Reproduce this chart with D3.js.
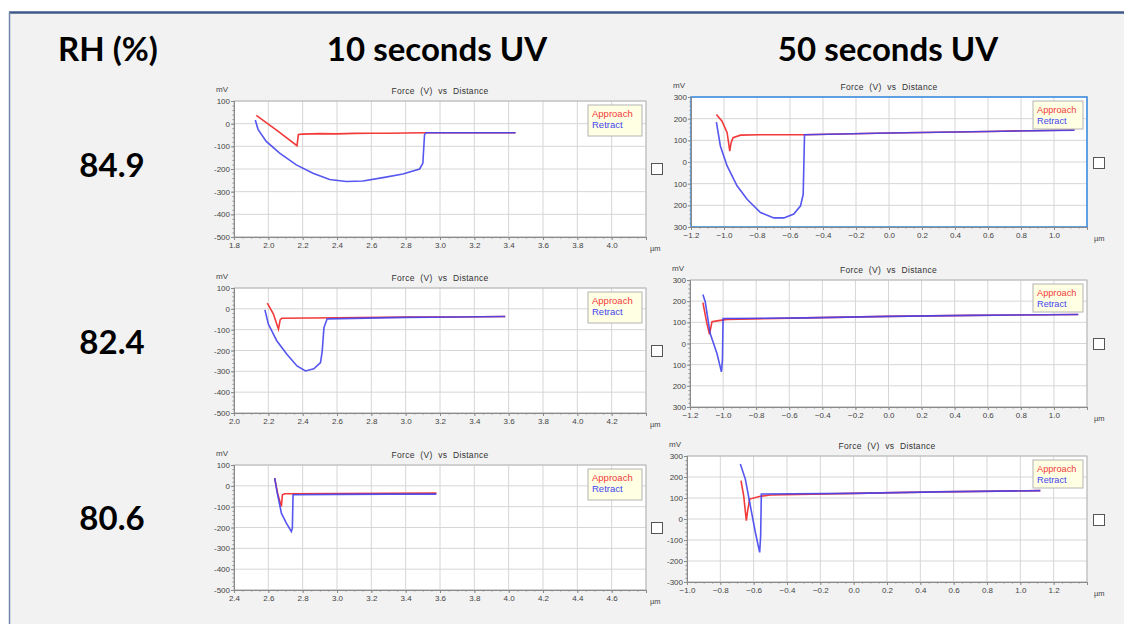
<!DOCTYPE html>
<html>
<head>
<meta charset="utf-8">
<script src="https://cdn.jsdelivr.net/npm/d3@7"></script>
<style>
  body { margin: 0; background: #fff; }
  svg { display: block; }
</style>
</head>
<body>
<svg id="chart" width="1124" height="624"></svg>
<script>
// Force vs distance curves, 3 humidities x 2 UV exposure times

// ---- data ----
const rhLabels = ["84.9", "82.4", "80.6"];
const uvLabels = ["10 seconds UV", "50 seconds UV"];
const seriesNames = ["Approach", "Retract"];
const panelTitle = "Force (V) vs Distance";

const yTicksLeft = [100, 0, -100, -200, -300, -400, -500];
const yTicksRight = [300, 200, 100, 0, -100, -200, -300];
const xTicks1 = [1.8, 2.0, 2.2, 2.4, 2.6, 2.8, 3.0, 3.2, 3.4, 3.6, 3.8, 4.0];
const xTicks3 = [2.0, 2.2, 2.4, 2.6, 2.8, 3.0, 3.2, 3.4, 3.6, 3.8, 4.0, 4.2];
const xTicks5 = [2.4, 2.6, 2.8, 3.0, 3.2, 3.4, 3.6, 3.8, 4.0, 4.2, 4.4, 4.6];
const xTicksR = [-1.2, -1.0, -0.8, -0.6, -0.4, -0.2, 0.0, 0.2, 0.4, 0.6, 0.8, 1.0];
const xTicks6 = [-1.0, -0.8, -0.6, -0.4, -0.2, 0.0, 0.2, 0.4, 0.6, 0.8, 1.0, 1.2];

// RH 84.9, 10 s
const approach10a = [[1.930, 37], [2.05, -30], [2.167, -97], [2.175, -48], [2.2, -46], [2.3, -44],
  [2.4, -45], [2.5, -43], [2.6, -42], [2.7, -42], [2.8, -41], [2.92, -40], [3.2, -40], [3.44, -40]];
const retract10a = [[1.924, 16], [1.94, -25], [1.988, -78], [2.066, -130], [2.163, -182], [2.26, -219],
  [2.357, -246], [2.454, -255], [2.551, -253], [2.668, -238], [2.784, -222], [2.881, -200],
  [2.90, -175], [2.91, -48], [2.92, -40], [3.2, -40], [3.44, -40]];
// RH 84.9, 50 s
const approach50a = [[-1.046, 219], [-1.012, 188], [-0.981, 135], [-0.965, 50], [-0.957, 89],
  [-0.945, 112], [-0.90, 124], [-0.78, 126], [-0.516, 126], [0.0, 134], [0.6, 141], [1.124, 148]];
const retract50a = [[-1.046, 184], [-1.022, 74], [-0.981, -18], [-0.921, -110], [-0.860, -172],
  [-0.779, -233], [-0.698, -258], [-0.637, -258], [-0.577, -240], [-0.536, -202], [-0.520, -149],
  [-0.512, 126], [0.0, 134], [0.6, 141], [1.124, 147]];
// RH 82.4, 10 s
const approach10b = [[2.194, 27], [2.229, -24], [2.259, -97], [2.269, -53], [2.278, -45],
  [2.6, -43], [3.0, -40], [3.3, -39], [3.58, -37]];
const retract10b = [[2.180, -5], [2.20, -73], [2.249, -153], [2.308, -218], [2.367, -274],
  [2.416, -298], [2.465, -288], [2.504, -258], [2.514, -202], [2.524, -89], [2.543, -48],
  [3.0, -41], [3.3, -39], [3.58, -37]];
// RH 82.4, 50 s
const approach50b = [[-1.122, 193], [-1.098, 95], [-1.082, 44], [-1.067, 103], [-1.037, 107],
  [-0.976, 114], [-0.5, 121], [0.0, 128], [0.5, 133], [1.147, 137]];
const retract50b = [[-1.122, 232], [-1.108, 197], [-1.078, 47], [-1.037, -47], [-1.01, -134],
  [-1.004, -79], [-1.0, 118], [-0.5, 121], [0.0, 128], [0.5, 133], [1.147, 137]];
// RH 80.6, 10 s
const approach10c = [[2.637, 37], [2.656, -43], [2.676, -99], [2.682, -43], [2.695, -38],
  [3.0, -37], [3.3, -36], [3.579, -35]];
const retract10c = [[2.637, 37], [2.65, -27], [2.676, -131], [2.705, -179], [2.734, -219],
  [2.74, -203], [2.744, -43], [3.0, -41], [3.3, -40], [3.579, -40]];
// RH 80.6, 50 s
const approach50c = [[-0.676, 183], [-0.66, 111], [-0.644, -8], [-0.636, 40], [-0.624, 95],
  [-0.56, 108], [-0.5, 114], [0.0, 122], [0.5, 129], [1.12, 135]];
const retract50c = [[-0.68, 262], [-0.65, 190], [-0.62, 63], [-0.59, -63], [-0.564, -159],
  [-0.558, -79], [-0.554, 119], [0.0, 122], [0.5, 129], [1.12, 135]];

// ---- layout ----
const panels = [
  { x0: 234, x1: 646, y0: 101, y1: 237, xTicks: xTicks1, xDom: [1.8, 4.2], yTicks: yTicksLeft, yDom: [-500, 100], a: approach10a, r: retract10a, side: "L", absY: false, sel: false },
  { x0: 691, x1: 1087, y0: 97, y1: 227, xTicks: xTicksR, xDom: [-1.2, 1.2], yTicks: yTicksRight, yDom: [-300, 300], a: approach50a, r: retract50a, side: "R", absY: true, sel: true },
  { x0: 234, x1: 646, y0: 288, y1: 413, xTicks: xTicks3, xDom: [2.0, 4.4], yTicks: yTicksLeft, yDom: [-500, 100], a: approach10b, r: retract10b, side: "L", absY: false, sel: false },
  { x0: 690, x1: 1087, y0: 280, y1: 407, xTicks: xTicksR, xDom: [-1.2, 1.2], yTicks: yTicksRight, yDom: [-300, 300], a: approach50b, r: retract50b, side: "R", absY: true, sel: false },
  { x0: 234, x1: 646, y0: 465, y1: 590, xTicks: xTicks5, xDom: [2.4, 4.8], yTicks: yTicksLeft, yDom: [-500, 100], a: approach10c, r: retract10c, side: "L", absY: false, sel: false },
  { x0: 687, x1: 1087, y0: 456, y1: 582, xTicks: xTicks6, xDom: [-1.0, 1.4], yTicks: yTicksRight, yDom: [-300, 300], a: approach50c, r: retract50c, side: "R", absY: false, sel: false }
];
const checkboxes = [[651, 163], [1093, 157], [651, 345], [1093, 338], [651, 522], [1093, 514]];

const red = "#f23a3a", blue = "#4444ee";
const smallFont = "Liberation Sans, Arial, sans-serif";

const svg = d3.select("#chart");

// outer frame
svg.append("rect").attr("x", 9).attr("y", 12).attr("width", 1124).attr("height", 640).attr("fill", "#f2f2f2");
svg.append("line").attr("x1", 9).attr("x2", 1124).attr("y1", 12.5).attr("y2", 12.5)
  .attr("stroke", "#3e5a88").attr("stroke-width", 2.5);
svg.append("line").attr("x1", 9.5).attr("x2", 9.5).attr("y1", 12).attr("y2", 624)
  .attr("stroke", "#7088aa").attr("stroke-width", 1.5);

// headers
const bigFont = "Lato, 'Open Sans', sans-serif";
svg.append("text").attr("x", 108).attr("y", 61).attr("text-anchor", "middle")
  .attr("font-family", bigFont).attr("font-weight", 700).attr("font-size", 33).text("RH (%)");
[437, 888].forEach((cx, i) => {
  svg.append("text").attr("x", cx).attr("y", 61).attr("text-anchor", "middle")
    .attr("font-family", bigFont).attr("font-weight", 700).attr("font-size", 33).text(uvLabels[i]);
});
[177, 354, 530].forEach((by, i) => {
  svg.append("text").attr("x", 112).attr("y", by).attr("text-anchor", "middle")
    .attr("font-family", bigFont).attr("font-weight", 700).attr("font-size", 33).text(rhLabels[i]);
});

// panels
panels.forEach(p => {
  const g = svg.append("g");
  const x = d3.scaleLinear().domain(p.xDom).range([p.x0, p.x1]);
  const y = d3.scaleLinear().domain(p.yDom).range([p.y1, p.y0]);

  g.append("rect").attr("x", p.x0).attr("y", p.y0).attr("width", p.x1 - p.x0).attr("height", p.y1 - p.y0)
    .attr("fill", "#fff");

  // grid
  g.selectAll(".gx").data(p.xTicks.slice(1).concat([p.xDom[1]])).enter().append("line")
    .attr("x1", d => x(d)).attr("x2", d => x(d)).attr("y1", p.y0).attr("y2", p.y1)
    .attr("stroke", "#d6d6d6").attr("stroke-width", 1);
  g.selectAll(".gy").data(p.yTicks).enter().append("line")
    .attr("x1", p.x0).attr("x2", p.x1).attr("y1", d => y(d)).attr("y2", d => y(d))
    .attr("stroke", "#d6d6d6").attr("stroke-width", 1);

  // plot frame
  g.append("rect").attr("x", p.x0).attr("y", p.y0).attr("width", p.x1 - p.x0).attr("height", p.y1 - p.y0)
    .attr("fill", "none").attr("stroke", p.sel ? "#3f8ee0" : "#b8b8b8").attr("stroke-width", p.sel ? 1.6 : 1);

  // axes
  const fmtY = p.absY ? (d => String(Math.abs(d))) : (d => String(d));
  const yAxis = g.append("g").attr("transform", `translate(${p.x0},0)`)
    .call(d3.axisLeft(y).tickValues(p.yTicks).tickSize(3).tickPadding(1).tickFormat(fmtY));
  const yMinor = g.append("g").attr("transform", `translate(${p.x0},0)`)
    .call(d3.axisLeft(y).tickValues(d3.range(p.yDom[0], p.yDom[1] + 1, 20)).tickSize(1.5).tickFormat(""));
  const xAxis = g.append("g").attr("transform", `translate(0,${p.y1})`)
    .call(d3.axisBottom(x).tickValues(p.xTicks).tickSize(3).tickPadding(2).tickFormat(d3.format(".1f")));
  const xMinor = g.append("g").attr("transform", `translate(0,${p.y1})`)
    .call(d3.axisBottom(x).tickValues(d3.range(p.xDom[0], p.xDom[1] + 0.001, 0.05)).tickSize(1.5).tickFormat(""));
  [yAxis, yMinor, xAxis, xMinor].forEach(a => {
    a.select(".domain").attr("stroke", "#8a8a8a");
    a.selectAll(".tick line").attr("stroke", "#8a8a8a");
    a.selectAll("text").attr("font-family", smallFont).attr("font-size", 8).attr("fill", "#444");
  });

  // labels
  g.append("text").attr("x", (p.x0 + p.x1) / 2).attr("y", p.y0 - 7).attr("text-anchor", "middle")
    .attr("font-family", smallFont).attr("font-size", 8.5).attr("word-spacing", 3).attr("letter-spacing", 0.3)
    .attr("fill", "#333").text(panelTitle);
  g.append("text").attr("x", p.x0 - 12).attr("y", p.y0 - 9).attr("text-anchor", "middle")
    .attr("font-family", smallFont).attr("font-size", 8).attr("fill", "#444").text("mV");
  g.append("text").attr("x", p.x1 + (p.side === "L" ? 4 : 7)).attr("y", p.y1 + 14)
    .attr("font-family", smallFont).attr("font-size", 7.5).attr("fill", "#444").text("µm");

  // curves
  const line = d3.line().x(d => x(d[0])).y(d => y(d[1]));
  g.append("path").datum(p.a).attr("d", line).attr("fill", "none").attr("stroke", red).attr("stroke-width", 1.6);
  g.append("path").datum(p.r).attr("d", line).attr("fill", "none").attr("stroke", blue).attr("stroke-width", 1.6)
    .attr("stroke-opacity", 0.9);

  // legend
  const lw = p.side === "L" ? 54 : 50, lh = p.side === "L" ? 31 : 28;
  const lx = p.x1 - 4 - lw, ly = p.y0 + 4;
  g.append("rect").attr("x", lx).attr("y", ly).attr("width", lw).attr("height", lh)
    .attr("fill", "#ffffe3").attr("stroke", "#b4b4b4");
  seriesNames.forEach((s, i) => {
    g.append("text").attr("x", lx + 4).attr("y", ly + 12 + i * 11)
      .attr("font-family", smallFont).attr("font-size", p.side === "L" ? 9.5 : 9.2)
      .attr("fill", i === 0 ? red : blue).text(s);
  });
});

// checkboxes
svg.selectAll(".cb").data(checkboxes).enter().append("rect")
  .attr("x", d => d[0] + 0.5).attr("y", d => d[1] + 0.5).attr("width", 11).attr("height", 11)
  .attr("fill", "#fff").attr("stroke", "#555").attr("stroke-width", 1);
</script>
</body>
</html>
